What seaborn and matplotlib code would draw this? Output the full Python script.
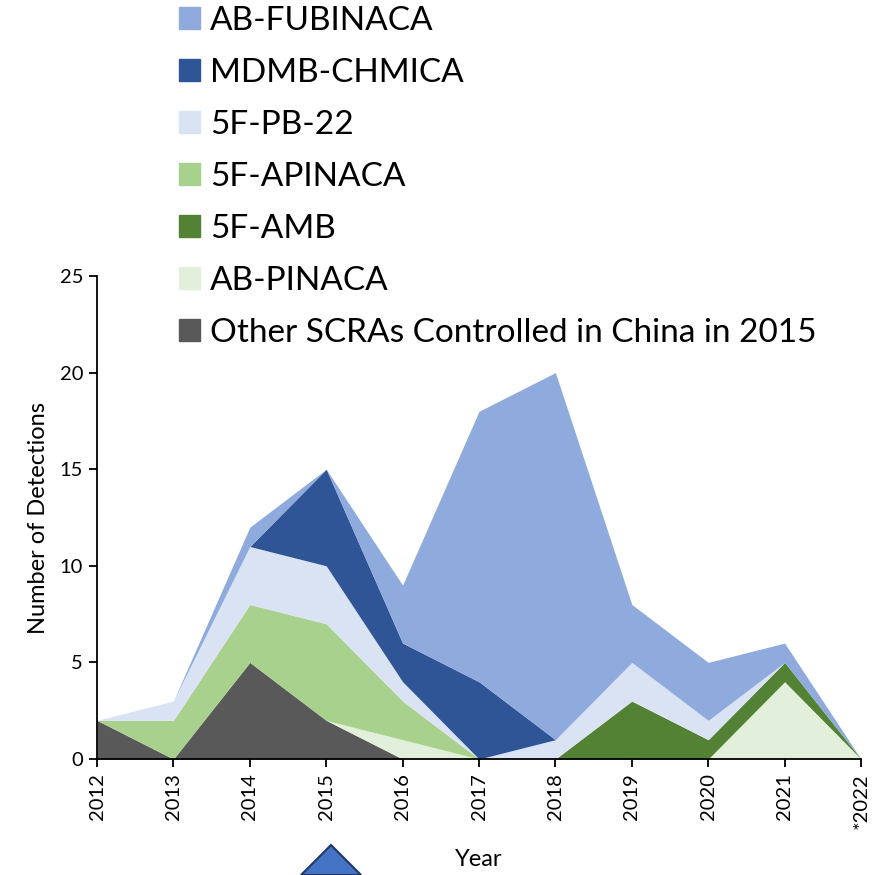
import matplotlib
matplotlib.use("Agg")
import matplotlib.pyplot as plt
import matplotlib.patches as mpatches
import seaborn as sns

# Detections per year, one list per compound (stack order: bottom to top)
years = [2012, 2013, 2014, 2015, 2016, 2017, 2018, 2019, 2020, 2021, 2022]
year_labels = ["2012", "2013", "2014", "2015", "2016", "2017", "2018",
               "2019", "2020", "2021", "*2022"]
other_scras = [2, 0, 5, 2, 0, 0, 0, 0, 0, 0, 0]
ab_pinaca = [0, 0, 0, 0, 1, 0, 0, 0, 0, 4, 0]
f5_amb = [0, 0, 0, 0, 0, 0, 0, 3, 1, 1, 0]
f5_apinaca = [0, 2, 3, 5, 2, 0, 0, 0, 0, 0, 0]
f5_pb22 = [0, 1, 3, 3, 1, 0, 1, 2, 1, 0, 0]
mdmb_chmica = [0, 0, 0, 5, 2, 4, 0, 0, 0, 0, 0]
ab_fubinaca = [0, 0, 1, 0, 3, 14, 19, 3, 3, 1, 0]

series_names = ["Other SCRAs Controlled in China in 2015", "AB-PINACA", "5F-AMB",
                "5F-APINACA", "5F-PB-22", "MDMB-CHMICA", "AB-FUBINACA"]
series_values = [other_scras, ab_pinaca, f5_amb, f5_apinaca, f5_pb22,
                 mdmb_chmica, ab_fubinaca]
colors = ["#595959", "#E2EFDA", "#548235", "#A9D18E", "#DAE3F3",
          "#2F5597", "#8FAADC"]

sns.set_theme(style="ticks")
plt.rcParams["font.family"] = ["Lato", "DejaVu Sans"]

fig = plt.figure(figsize=(8.72, 8.75), dpi=100)
ax = fig.add_axes([97 / 872, 1 - 759 / 875, 764 / 872, (759 - 276) / 875])

ax.stackplot(years, *series_values, colors=colors, labels=series_names,
             linewidth=0)

ax.set_xlim(2012, 2022)
ax.set_ylim(0, 25)
ax.set_yticks([0, 5, 10, 15, 20, 25])
ax.set_xticks(years)
ax.set_xticklabels(year_labels, rotation=90, va="top", ha="center")
ax.tick_params(axis="both", labelsize=14.5, colors="black", direction="out",
               length=6, width=1.3, pad=4)
for side in ("top", "right"):
    ax.spines[side].set_visible(False)
for side in ("left", "bottom"):
    ax.spines[side].set_color("black")
    ax.spines[side].set_linewidth(1.3)

ax.set_ylabel("Number of Detections", fontsize=17, color="black", labelpad=8)
ax.set_xlabel("Year", fontsize=17, color="black")
ax.xaxis.set_label_coords(0.5, -(860 - 759) / 483)
ax.xaxis.label.set_verticalalignment("center")

# Legend, listed top layer first
handles = [mpatches.Patch(color=c) for c in colors][::-1]
labels = series_names[::-1]
leg = fig.legend(handles, labels, loc="upper left",
                 bbox_to_anchor=(179 / 872, 1 - 6 / 875), frameon=False,
                 fontsize=24, handlelength=0.64, handleheight=0.64,
                 handletextpad=0.3, labelspacing=0.66, borderpad=0,
                 borderaxespad=0)
for t in leg.get_texts():
    t.set_color("black")

# Triangle marker at the bottom edge
tri = mpatches.Polygon([(301 / 872, 0), (331 / 872, 1 - 845 / 875), (361 / 872, 0)],
                       closed=True, transform=fig.transFigure,
                       facecolor="#4472C4", edgecolor="#1F3864", linewidth=1.5,
                       clip_on=False)
fig.patches.append(tri)

fig.savefig("out.png", dpi=100)
